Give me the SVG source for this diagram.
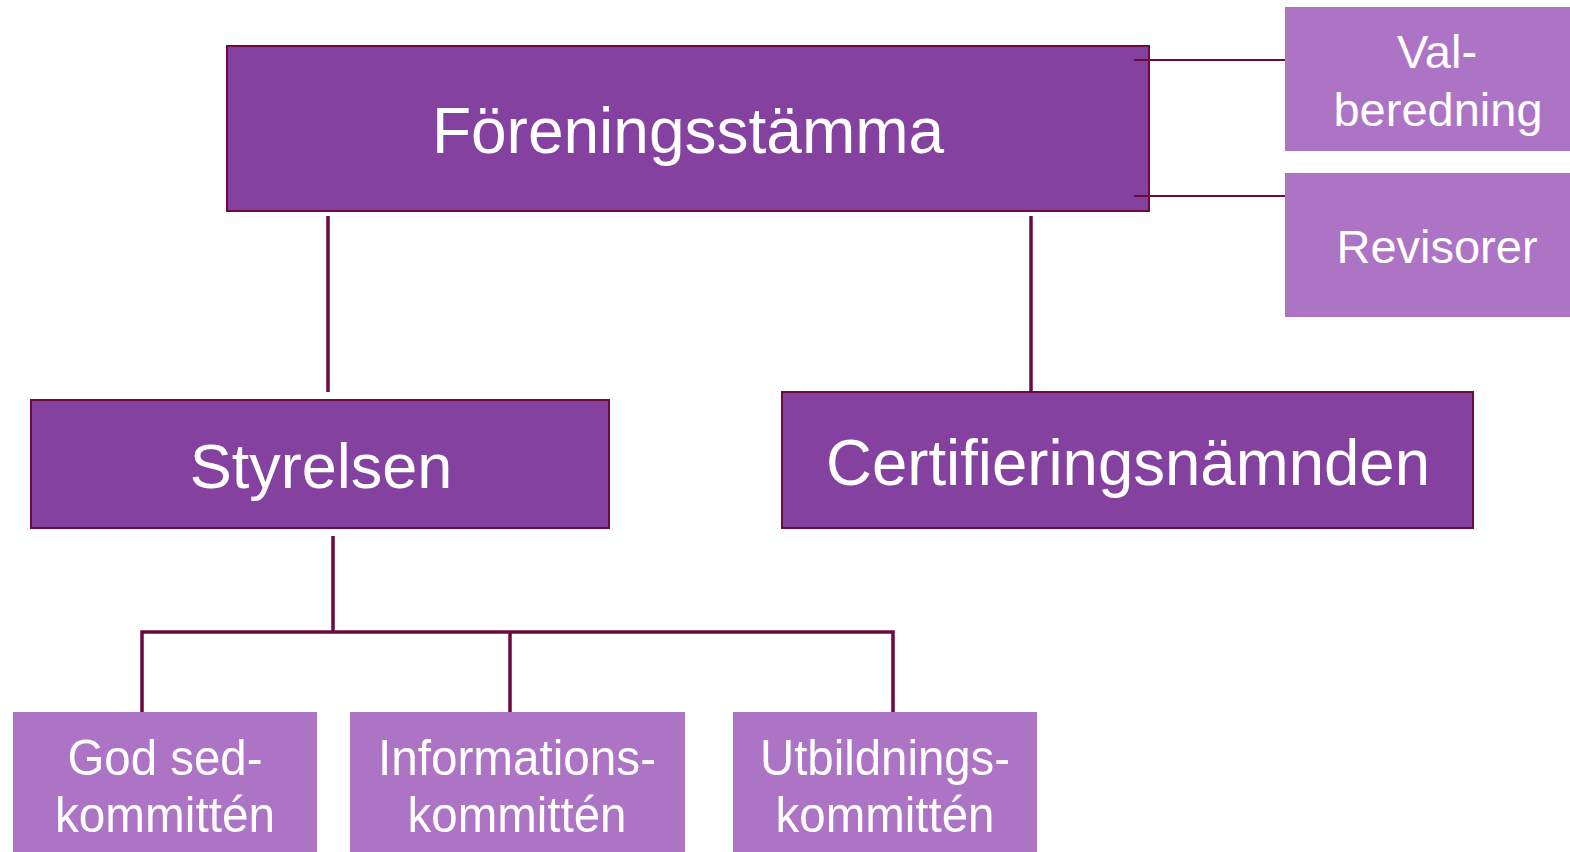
<svg xmlns="http://www.w3.org/2000/svg" width="1570" height="852" viewBox="0 0 1570 852">
<style>
.dark{fill:#8441A0;stroke:#6B0A3E;stroke-width:2}
.light{fill:#AD74C6}
.t{font-family:"Liberation Sans",Arial,sans-serif;fill:#fff;text-anchor:middle}
.c{stroke:#6B0A3E;fill:none;stroke-width:3.5}
.c2{stroke:#6B0A3E;fill:none;stroke-width:2}
</style>
<rect width="1570" height="852" fill="#fff"/>
<g id="foreningsstamma">
<rect class="dark" x="227" y="46" width="922" height="165"/>
<text class="t" x="688" y="153" font-size="64">Föreningsstämma</text>
</g>
<g id="valberedning">
<rect class="light" x="1285" y="7" width="290" height="144"/>
<text class="t" x="1437" y="68" font-size="47">Val-</text>
<text class="t" x="1438" y="126" font-size="47">beredning</text>
</g>
<g id="revisorer">
<rect class="light" x="1285" y="173" width="290" height="144"/>
<text class="t" x="1437" y="263" font-size="47">Revisorer</text>
</g>
<g id="styrelsen">
<rect class="dark" x="31" y="400" width="578" height="128"/>
<text class="t" x="321" y="488" font-size="63">Styrelsen</text>
</g>
<g id="certifieringsnamnden">
<rect class="dark" x="782" y="392" width="691" height="136"/>
<text class="t" x="1128" y="485" font-size="65" textLength="604" lengthAdjust="spacingAndGlyphs">Certifieringsnämnden</text>
</g>
<g id="godsed">
<rect class="light" x="13" y="712" width="304" height="145"/>
<text class="t" x="165" y="775" font-size="50" textLength="195" lengthAdjust="spacingAndGlyphs">God sed-</text>
<text class="t" x="165" y="832" font-size="50" textLength="220" lengthAdjust="spacingAndGlyphs">kommittén</text>
</g>
<g id="information">
<rect class="light" x="350" y="712" width="335" height="145"/>
<text class="t" x="517" y="775" font-size="50" textLength="278" lengthAdjust="spacingAndGlyphs">Informations-</text>
<text class="t" x="517" y="832" font-size="50" textLength="219" lengthAdjust="spacingAndGlyphs">kommittén</text>
</g>
<g id="utbildning">
<rect class="light" x="733" y="712" width="304" height="145"/>
<text class="t" x="885" y="775" font-size="50" textLength="250" lengthAdjust="spacingAndGlyphs">Utbildnings-</text>
<text class="t" x="885" y="832" font-size="50" textLength="219" lengthAdjust="spacingAndGlyphs">kommittén</text>
</g>
<g id="connectors">
<line class="c2" x1="1134" y1="60" x2="1285" y2="60"/>
<line class="c2" x1="1134" y1="196" x2="1285" y2="196"/>
<line class="c" x1="328" y1="216" x2="328" y2="392"/>
<line class="c" x1="1031" y1="216" x2="1031" y2="391"/>
<line class="c" x1="333" y1="536" x2="333" y2="632"/>
<polyline class="c" points="142,712 142,632 893,632 893,712"/>
<line class="c" x1="510" y1="632" x2="510" y2="712"/>
</g>
</svg>
